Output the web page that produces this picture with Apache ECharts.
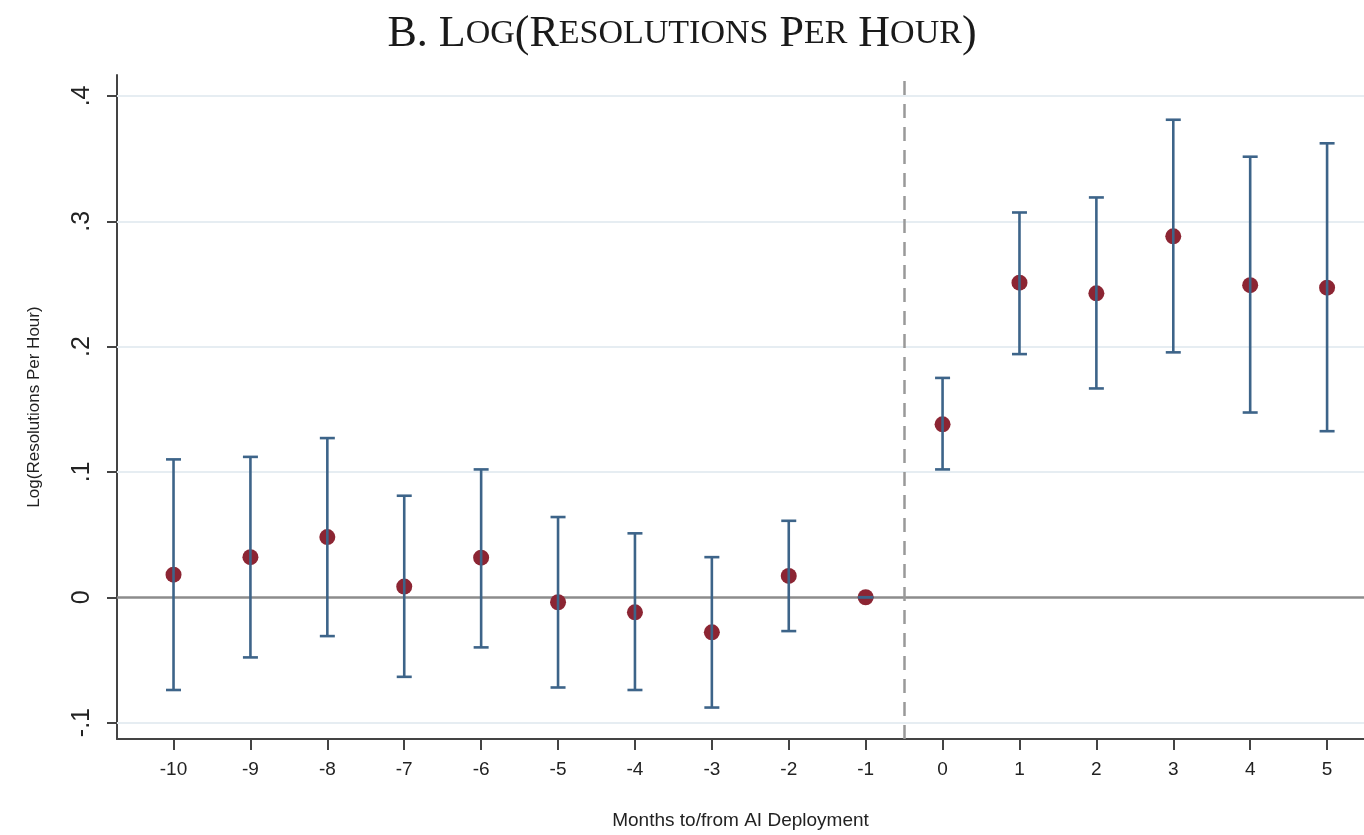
<!DOCTYPE html>
<html>
<head>
<meta charset="utf-8">
<script src="https://cdn.jsdelivr.net/npm/echarts@6/dist/echarts.min.js"></script>
<style>
html,body{margin:0;padding:0;background:#fff;}
#chart{width:1364px;height:835px;}
</style>
</head>
<body>
<div id="chart"></div>
<script>
// ---- data ----
var months = [-10, -9, -8, -7, -6, -5, -4, -3, -2, -1, 0, 1, 2, 3, 4, 5];
var coef   = [0.018, 0.032, 0.048, 0.0085, 0.0316, -0.004, -0.012, -0.028, 0.017, 0, 0.138, 0.251, 0.2425, 0.288, 0.249, 0.247];
var lower  = [-0.074, -0.048, -0.031, -0.0635, -0.040, -0.072, -0.074, -0.088, -0.027, 0, 0.102, 0.194, 0.1666, 0.1954, 0.1474, 0.1325];
var upper  = [0.110, 0.112, 0.127, 0.081, 0.102, 0.064, 0.051, 0.032, 0.061, 0, 0.175, 0.307, 0.319, 0.381, 0.3515, 0.3622];
var yTicks = [-0.1, 0, 0.1, 0.2, 0.3, 0.4];
var yTickLabels = ['-.1', '0', '.1', '.2', '.3', '.4'];
var xTicks = months;
var deployLine = -0.5;

var chart = echarts.init(document.getElementById('chart'));

var pointData = months.map(function (m, i) { return [m, coef[i]]; });
var barData = months.map(function (m, i) { return [m, lower[i], upper[i]]; });

var gridLines = yTicks.filter(function (v) { return v !== 0; }).map(function (v) {
  return { yAxis: v };
});

var yLabelMap = {};
yTicks.forEach(function (v, i) { yLabelMap[v.toFixed(2)] = yTickLabels[i]; });

var option = {
  backgroundColor: '#ffffff',
  animation: false,
  title: {
    text: '{b|B. L}{s|OG}{b|(R}{s|ESOLUTIONS}{b| P}{s|ER}{b| H}{s|OUR}{b|)}',
    left: 'center',
    top: 7,
    textStyle: {
      fontWeight: 'normal',
      rich: {
        b: { fontFamily: 'Liberation Serif', fontSize: 44, fontWeight: 'normal', color: '#1a1a1a' },
        s: { fontFamily: 'Liberation Serif', fontSize: 34, fontWeight: 'normal', color: '#1a1a1a' }
      }
    }
  },
  grid: { left: 117, right: 0, top: 75, bottom: 94, containLabel: false },
  xAxis: {
    type: 'value',
    min: -10.735,
    max: 5.48,
    name: 'Months to/from AI Deployment',
    nameLocation: 'middle',
    nameGap: 72,
    nameTextStyle: { fontFamily: 'Liberation Sans', fontSize: 19, color: '#222' },
    axisLine: { onZero: false, lineStyle: { color: '#444', width: 2 } },
    axisTick: { show: true, customValues: xTicks, length: 11, lineStyle: { color: '#444', width: 2 } },
    axisLabel: {
      customValues: xTicks, margin: 21,
      fontFamily: 'Liberation Sans', fontSize: 19, color: '#222',
      formatter: function (v) { return String(Math.round(v)); }
    },
    splitLine: { show: false }
  },
  yAxis: {
    type: 'value',
    min: -0.1131,
    max: 0.4167,
    name: 'Log(Resolutions Per Hour)',
    nameLocation: 'middle',
    nameGap: 74,
    nameRotate: 90,
    nameTextStyle: { fontFamily: 'Liberation Sans', fontSize: 17, color: '#222' },
    axisLine: { onZero: false, lineStyle: { color: '#444', width: 2 } },
    axisTick: { show: true, customValues: yTicks, length: 10, lineStyle: { color: '#444', width: 2 } },
    axisLabel: {
      customValues: yTicks, rotate: 90, margin: 22,
      fontFamily: 'Liberation Sans', fontSize: 25, color: '#222',
      formatter: function (v) {
        var k = (Math.round(v * 10) / 10).toFixed(2);
        return yLabelMap[k] !== undefined ? yLabelMap[k] : '';
      }
    },
    splitLine: { show: false }
  },
  series: [
    {
      type: 'scatter',
      name: 'grid',
      data: [],
      silent: true,
      markLine: {
        silent: true,
        symbol: ['none', 'none'],
        label: { show: false },
        lineStyle: { color: '#e6edf2', width: 2, type: 'solid' },
        data: gridLines,
        z: 1
      },
      z: 1
    },
    {
      type: 'scatter',
      name: 'zero',
      data: [],
      silent: true,
      markLine: {
        silent: true,
        symbol: ['none', 'none'],
        label: { show: false },
        lineStyle: { color: '#8c8c8c', width: 2.5, type: 'solid' },
        data: [{ yAxis: 0 }],
        z: 2
      },
      z: 2
    },
    {
      type: 'scatter',
      name: 'deploy',
      data: [],
      silent: true,
      markLine: {
        silent: true,
        symbol: ['none', 'none'],
        label: { show: false },
        lineStyle: { color: '#999999', width: 2.5, type: [14, 9] },
        data: [{ xAxis: deployLine }],
        z: 2
      },
      z: 2
    },
    {
      type: 'scatter',
      name: 'coef',
      data: pointData,
      symbol: 'circle',
      symbolSize: 16,
      itemStyle: { color: '#8c2533', opacity: 1 },
      z: 3
    },
    {
      type: 'custom',
      name: 'ci',
      data: barData,
      z: 4,
      renderItem: function (params, api) {
        var x = api.value(0);
        var lo = api.coord([x, api.value(1)]);
        var hi = api.coord([x, api.value(2)]);
        var cap = 7.5;
        var style = { stroke: '#3d6489', lineWidth: 2.6 };
        return {
          type: 'group',
          children: [
            { type: 'line', shape: { x1: lo[0], y1: lo[1], x2: hi[0], y2: hi[1] }, style: style },
            { type: 'line', shape: { x1: lo[0] - cap, y1: lo[1], x2: lo[0] + cap, y2: lo[1] }, style: style },
            { type: 'line', shape: { x1: hi[0] - cap, y1: hi[1], x2: hi[0] + cap, y2: hi[1] }, style: style }
          ]
        };
      }
    }
  ]
};

chart.setOption(option);
</script>
</body>
</html>
